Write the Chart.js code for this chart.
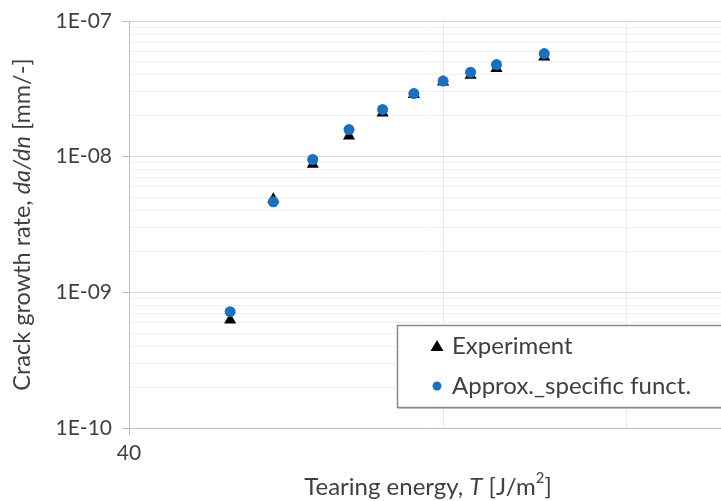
<!DOCTYPE html>
<html>
<head>
<meta charset="utf-8">
<script src="https://cdn.jsdelivr.net/npm/chart.js@4.4.0/dist/chart.umd.min.js"></script>
<style>
html, body { margin: 0; padding: 0; background: #fff; overflow: hidden; }
/* el area de trazado sigue un poco mas alla del borde derecho de la ventana */
#contenedor { width: 731px; height: 501px; }
</style>
</head>
<body>
<div id="contenedor"><canvas id="graficoGrieta"></canvas></div>
<script>
// energia de desgarro T [J/m2]
var energia = [50, 55, 60, 65, 70, 75, 80, 85, 90, 100];
// da/dn medido
var experimento = [6.25e-10, 4.86e-9, 8.8e-9, 1.42e-8, 2.1e-8, 2.87e-8, 3.55e-8, 3.98e-8, 4.46e-8, 5.43e-8];
// da/dn de la funcion especifica
var aproximacion = [7.2e-10, 4.65e-9, 9.53e-9, 1.585e-8, 2.23e-8, 2.92e-8, 3.61e-8, 4.19e-8, 4.77e-8, 5.75e-8];

var ticksY = [1e-10, 1e-9, 1e-8, 1e-7];
var etiquetasY = ['1E-10', '1E-09', '1E-08', '1E-07'];
var ticksX = [40, 80, 120];
var etiquetasX = ['40', '', ''];
var nombres = ['Experiment', 'Approx._specific funct.'];

var FUENTE = 'Lato, "Open Sans", sans-serif';
var TEXTO = '#404040';
var AZUL = '#1f6fbf';
var NADA = 'rgba(0,0,0,0)';

function puntos(ys){
    var out = [];
    for (var i in energia){
        out.push({x: energia[i], y: ys[i]});
    }
    return out;
}

// texto con tramos en cursiva / superindice
function textoMixto(ctx, tramos, size){
    var total = 0;
    tramos.forEach(function(t){
        var s = t.sup ? size * 0.62 : size;
        ctx.font = (t.it ? 'italic ' : '') + s + 'px ' + FUENTE;
        t.w = ctx.measureText(t.txt).width;
        total += t.w;
    });
    var x = -total / 2;
    tramos.forEach(function(t){
        var s = t.sup ? size * 0.62 : size;
        ctx.font = (t.it ? 'italic ' : '') + s + 'px ' + FUENTE;
        ctx.fillText(t.txt, x, t.sup ? -size * 0.36 : 0);
        x += t.w;
    });
}

var titulos = {
    id: 'titulos',
    afterDraw: function(chart){
        var ctx = chart.ctx;
        var area = chart.chartArea;
        ctx.save();
        ctx.fillStyle = TEXTO;
        ctx.textAlign = 'left';
        ctx.textBaseline = 'middle';
        // eje Y
        ctx.save();
        ctx.translate(22, (area.top + area.bottom) / 2);
        ctx.rotate(-Math.PI / 2);
        textoMixto(ctx, [
            {txt: 'Crack growth rate, '},
            {txt: 'da/dn', it: true},
            {txt: ' [mm/-]'}
        ], 23.5);
        ctx.restore();
        // eje X
        ctx.save();
        ctx.translate(428, 487);
        textoMixto(ctx, [
            {txt: 'Tearing energy, '},
            {txt: 'T', it: true},
            {txt: ' [J/m'},
            {txt: '2', sup: true},
            {txt: ']'}
        ], 24);
        ctx.restore();
        ctx.restore();
    }
};

var leyenda = {
    id: 'leyenda',
    afterDraw: function(chart){
        var ctx = chart.ctx;
        ctx.save();
        ctx.fillStyle = '#ffffff';
        ctx.fillRect(397, 325, 340, 82);
        ctx.strokeStyle = '#d0d0d0';
        ctx.lineWidth = 1;
        ctx.beginPath();
        ctx.moveTo(398, 408.5);
        ctx.lineTo(740, 408.5);
        ctx.stroke();
        ctx.strokeStyle = '#8a8a8a';
        ctx.lineWidth = 1.5;
        ctx.strokeRect(397.5, 325.5, 340, 82);

        // triangulo
        ctx.fillStyle = '#000000';
        ctx.beginPath();
        ctx.moveTo(437, 340);
        ctx.lineTo(443.5, 351);
        ctx.lineTo(430.5, 351);
        ctx.closePath();
        ctx.fill();
        // circulo
        ctx.fillStyle = AZUL;
        ctx.beginPath();
        ctx.arc(437, 386, 4.5, 0, Math.PI * 2);
        ctx.fill();

        ctx.fillStyle = TEXTO;
        ctx.font = '24px ' + FUENTE;
        ctx.textAlign = 'left';
        ctx.textBaseline = 'middle';
        ctx.fillText(nombres[0], 452, 346);
        ctx.fillText(nombres[1], 452, 386);
        ctx.restore();
    }
};

var GRAFICO = document.getElementById('graficoGrieta');
var grafico = new Chart(GRAFICO, {
    type: 'scatter',
    data: {
        datasets: [
            {
                label: nombres[0],
                data: puntos(experimento),
                pointStyle: 'triangle',
                pointRadius: 7,
                backgroundColor: '#000000',
                borderColor: '#000000',
                borderWidth: 0,
                order: 1
            },
            {
                label: nombres[1],
                data: puntos(aproximacion),
                pointStyle: 'circle',
                pointRadius: 5.5,
                backgroundColor: AZUL,
                borderColor: AZUL,
                borderWidth: 0,
                order: 0
            }
        ]
    },
    options: {
        responsive: true,
        maintainAspectRatio: false,
        animation: false,
        layout: {
            autoPadding: false,
            padding: { top: 21, right: 0, bottom: 0, left: 0 }
        },
        plugins: {
            legend: { display: false },
            tooltip: { enabled: false }
        },
        scales: {
            x: {
                type: 'logarithmic',
                min: 40,
                max: 151,
                afterFit: function(scale){
                    scale.height = 73;
                    scale.paddingRight = 0;
                },
                afterBuildTicks: function(scale){
                    scale.ticks = ticksX.map(function(v){ return {value: v}; });
                },
                ticks: {
                    autoSkip: false,
                    maxRotation: 0,
                    padding: 6,
                    color: TEXTO,
                    font: { family: FUENTE, size: 21 },
                    callback: function(value, index){ return etiquetasX[index]; }
                },
                grid: {
                    color: function(c){
                        return c.tick && ticksX.indexOf(c.tick.value) > 0 ? '#e8e8e8' : NADA;
                    },
                    tickLength: 7,
                    tickColor: function(c){ return c.tick && c.tick.value === ticksX[0] ? '#bfbfbf' : NADA; }
                },
                border: { color: '#bfbfbf' }
            },
            y: {
                type: 'logarithmic',
                min: 1e-10,
                max: 1e-7,
                afterFit: function(scale){
                    scale.width = 129;
                    scale.paddingTop = 0;
                    scale.paddingBottom = 0;
                },
                afterBuildTicks: function(scale){
                    var t = [];
                    for (var d = 0; d < ticksY.length; d++){
                        t.push({value: ticksY[d], major: true});
                        if (d < ticksY.length - 1){
                            for (var k = 2; k <= 9; k++){
                                t.push({value: ticksY[d] * k, major: false});
                            }
                        }
                    }
                    scale.ticks = t;
                },
                ticks: {
                    autoSkip: false,
                    padding: 10,
                    color: TEXTO,
                    font: { family: FUENTE, size: 21 },
                    callback: function(value){
                        var i = ticksY.findIndex(function(v){ return Math.abs(v - value) / v < 1e-6; });
                        return i >= 0 ? etiquetasY[i] : '';
                    }
                },
                grid: {
                    color: function(c){ return c.tick && c.tick.major ? '#d9d9d9' : '#f0f0f0'; },
                    tickLength: 7,
                    tickColor: function(c){ return c.tick && c.tick.major ? '#bfbfbf' : NADA; }
                },
                border: { color: '#bfbfbf' }
            }
        }
    },
    plugins: [titulos, leyenda]
});
</script>
</body>
</html>
